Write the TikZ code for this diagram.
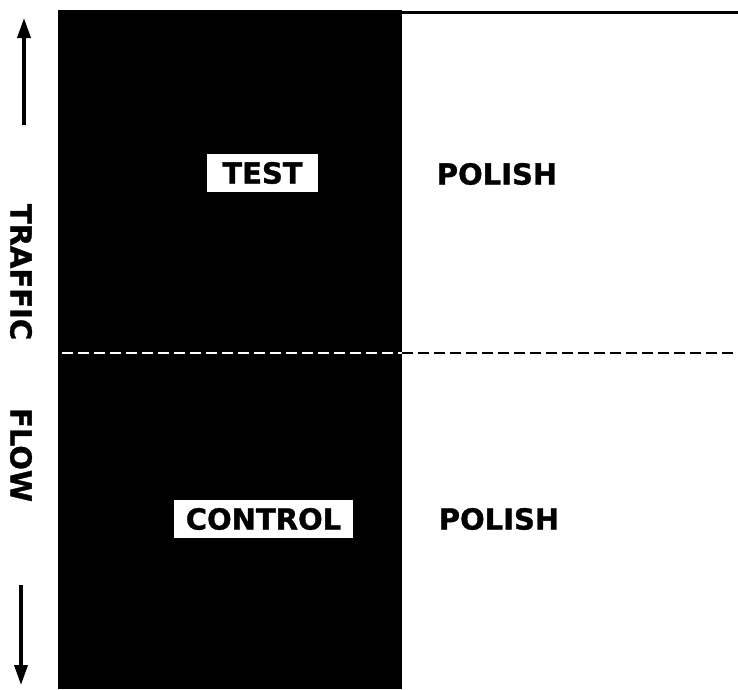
\documentclass[tikz,border=0pt]{standalone}
\usepackage{fontspec}
\setmainfont{DejaVu Sans}
\newfontface\heavyface{DejaVu Sans Bold}[FakeBold=1.2]
\usepackage{tikz}
\usetikzlibrary{arrows.meta, positioning}

\begin{document}
\begin{tikzpicture}[x=1pt, y=-1pt,
        label/.style={font=\heavyface\fontsize{29}{29}\selectfont, inner sep=0pt},
        tag/.style={label, fill=white, minimum height=38pt},
        flow/.style={-{Triangle[length=20pt, width=13pt]}, line width=3.5pt},
        lane/.style={line width=2.5pt, dash pattern=on 11pt off 5pt},
        ]
        \useasboundingbox (0,0) rectangle (738,689);

        % panels
        \fill (58,10) rectangle (402,689);
        \coordinate (edge) at (402,12);
        \coordinate (far) at (738,12);
        \draw[line width=3pt] (edge) -- (far);

        % dividing line
        \coordinate (d0) at (62,353);
        \coordinate (d1) at (402,353);
        \coordinate (d2) at (738,353);
        \draw[lane, white] (d0) -- (d1);
        \draw[lane, black] (d1) -- (d2);

        % labels
        \node[tag, minimum width=111pt] (test) at (262.5,173) {TEST};
        \node[tag, minimum width=179pt] (control) at (263.5,519) {CONTROL};
        \node[label] (polish1) at (497,174) {POLISH};
        \node[label] (polish2) at (499,519) {POLISH};
        \node[label, rotate=-90] (traffic) at (21,272) {TRAFFIC};
        \node[label, rotate=-90] (flowtxt) at (21,455) {FLOW};

        % arrows
        \coordinate (up0) at (24,125);
        \coordinate (up1) at (24,18);
        \coordinate (dn0) at (21,585);
        \coordinate (dn1) at (21,685);
        \draw[flow] (up0) -- (up1);
        \draw[flow] (dn0) -- (dn1);

        \end{tikzpicture}
\end{document}
